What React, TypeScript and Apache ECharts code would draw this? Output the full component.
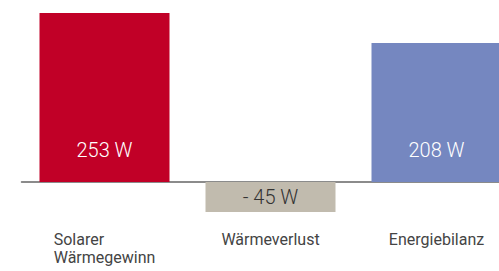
import React, { useEffect, useRef } from "react";
import * as echarts from "echarts";

const categories = ["Solarer\nWärmegewinn", "Wärmeverlust", "Energiebilanz"];
const values = [253, -45, 208];
const barColors = ["#c10027", "#c1bbae", "#7587c0"];
const labelColors = ["#ffffff", "#333333", "#ffffff"];

export default function App() {
  const ref = useRef<HTMLDivElement>(null);
  useEffect(() => {
    if (!ref.current) return;
    const chart = echarts.init(ref.current, null, { renderer: "svg" });
    chart.setOption({
      animation: false,
      grid: { left: 21.5, top: 13, width: 498, height: 209.1, outerBoundsMode: "none", containLabel: false },
      xAxis: {
        type: "category",
        data: categories,
        axisLine: { onZero: true, lineStyle: { color: "#666666", width: 1.5 } },
        axisTick: { show: false },
        axisLabel: {
          margin: 8,
          interval: 0,
          hideOverlap: false,
          formatter: (v: string) => v.split("\n").map((l) => `{a|${l}}`).join("\n"),
          rich: {
            a: {
              align: "left",
              fontFamily: "Roboto",
              fontSize: 16,
              lineHeight: 18,
              color: "#444444",
            },
          },
        },
      },
      yAxis: {
        type: "value",
        min: -60,
        max: 253,
        show: false,
        splitLine: { show: false },
      },
      series: [
        {
          type: "bar",
          barWidth: 130,
          data: values.map((v, i) => ({
            value: v,
            itemStyle: { color: barColors[i] },
            label: {
              show: true,
              position: v < 0 ? "inside" : "insideBottom",
              distance: 22,
              color: labelColors[i],
              fontFamily: "Roboto",
              fontWeight: 300,
              fontSize: 20,
              formatter: () => (v < 0 ? `- ${Math.abs(v)} W` : `${v} W`),
            },
          })),
        },
      ],
    });
    return () => chart.dispose();
  }, []);
  return (
    <div
      ref={ref}
      style={{ position: "fixed", left: 0, top: 0, width: 499, height: 271, background: "#fff" }}
    />
  );
}
